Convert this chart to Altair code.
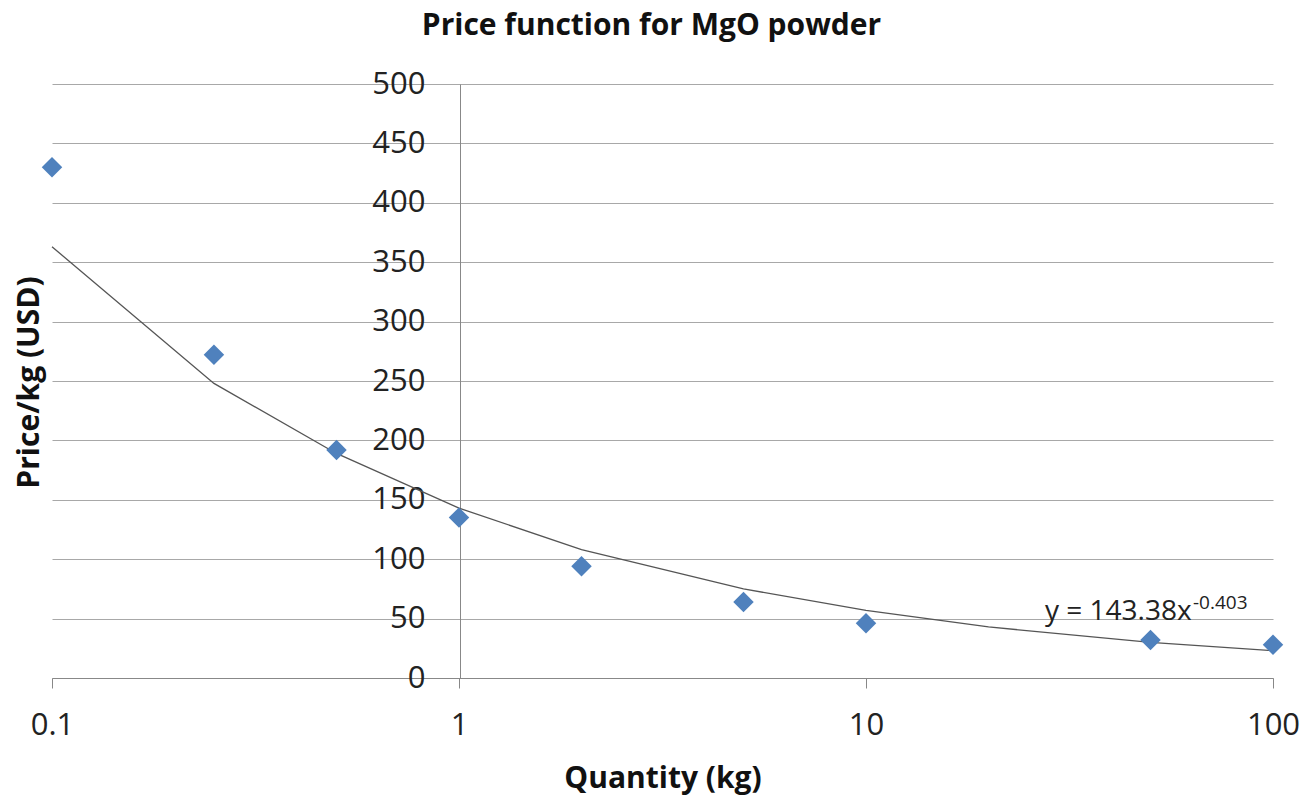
import altair as alt
import pandas as pd

# ---- data ----
qty = [0.1, 0.25, 0.5, 1, 2, 5, 10, 50, 100]
price = [430, 272, 192, 135, 94, 64, 46, 32, 28]
trend_qty = [0.1, 0.25, 0.5, 1, 2, 5, 10, 20, 50, 100]
trend_price = [363, 248, 189, 143, 108, 75, 57, 43, 30, 23]
x_ticks = [0.1, 1, 10, 100]
y_ticks = list(range(0, 501, 50))
equation = ["y = 143.38x"]
exponent = ["-0.403"]

FONT = "Open Sans"
W, H = 1221, 594

pts = pd.DataFrame({"qty": qty, "price": price})
tr = pd.DataFrame({"qty": trend_qty, "price": trend_price})

xscale = alt.Scale(type="log", domain=[0.1, 100], nice=False)
yscale = alt.Scale(domain=[0, 500], nice=False, zero=True)

xaxis = alt.Axis(
    values=x_ticks, format="~g", grid=False, tickSize=10, tickColor="#888888",
    domainColor="#888888", labelFontSize=31, labelFont=FONT, labelColor="#222222",
    labelPadding=22, labelFlush=False,
    title="Quantity (kg)", titleFont=FONT, titleFontSize=30, titleFontWeight="bold",
    titleColor="#111111", titleY=109, titleBaseline="alphabetic",
)
yaxis = alt.Axis(
    values=y_ticks, offset=-408, ticks=False, tickSize=0, grid=True,
    gridColor="#a8a8a8", domainColor="#888888", labelFontSize=31, labelFont=FONT,
    labelColor="#222222", labelPadding=35,
    title="Price/kg (USD)", titleFont=FONT, titleFontSize=30, titleFontWeight="bold",
    titleColor="#111111", titleX=-431, titleY=298, titleAngle=270,
    titleAlign="center", titleBaseline="middle",
)

line = alt.Chart(tr).mark_line(color="#555555", strokeWidth=1.3).encode(
    x=alt.X("qty:Q", scale=xscale, axis=xaxis),
    y=alt.Y("price:Q", scale=yscale, axis=yaxis),
)
points = alt.Chart(pts).mark_point(
    shape="diamond", filled=True, size=420, color="#4F81BD", opacity=1
).encode(x="qty:Q", y="price:Q")

eq = alt.Chart(pd.DataFrame({"t": equation})).mark_text(
    align="left", baseline="alphabetic", fontSize=28, font=FONT, color="#222222"
).encode(x=alt.value(993), y=alt.value(536), text="t:N")
sup = alt.Chart(pd.DataFrame({"t": exponent})).mark_text(
    align="left", baseline="alphabetic", fontSize=19, font=FONT, color="#222222"
).encode(x=alt.value(1141), y=alt.value(525), text="t:N")

chart = (
    alt.layer(line, points, eq, sup)
    .properties(
        width=W, height=H,
        autosize=alt.AutoSizeParams(type="none"),
        padding={"left": 52, "top": 84, "right": 34, "bottom": 119},
        background="white",
        title=alt.TitleParams(
            "Price function for MgO powder", font=FONT, fontSize=30,
            fontWeight="bold", color="#111111", anchor="middle", offset=27, dx=-11,
        ),
    )
    .configure_view(stroke=None)
)

chart.save("out.html", embed_options={"renderer": "svg", "actions": False})
